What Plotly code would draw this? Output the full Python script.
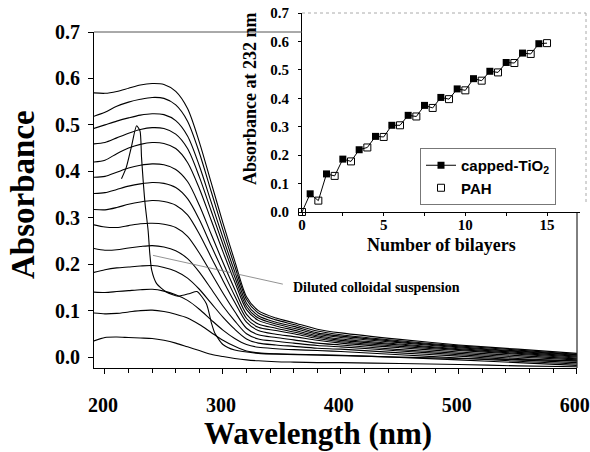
import plotly.graph_objects as go

# ---------------- UV-vis spectra (main panel) ----------------
wavelength = [190, 200, 210, 220, 230, 240, 250, 260, 270, 280, 290, 300,
              310, 320, 330, 345, 360, 380, 400, 450, 500, 550, 600]

# one spectrum per deposition step, thinnest film first
spectrum_01 = [.034, .042, .043, .042, .041, .040, .036, .030, .022, .014, .006, .001,
               -.003, -.006, -.008, -.010, -.011, -.012, -.012, -.014, -.016, -.019, -.021]
spectrum_02 = [.095, .093, .094, .097, .100, .101, .098, .092, .084, .070, .053, .036,
               .023, .013, .009, .007, .006, .005, .004, -.001, -.006, -.012, -.018]
spectrum_03 = [.140, .139, .141, .143, .145, .146, .142, .134, .122, .103, .080, .058,
               .040, .027, .021, .018, .016, .014, .012, .005, -.002, -.009, -.015]
spectrum_04 = [.182, .188, .192, .194, .196, .197, .193, .185, .170, .146, .116, .086,
               .060, .039, .030, .026, .023, .019, .017, .009, .002, -.006, -.012]
spectrum_05 = [.234, .230, .231, .235, .238, .240, .237, .229, .212, .183, .147, .110,
               .078, .050, .039, .034, .030, .025, .022, .013, .005, -.003, -.009]
spectrum_06 = [.285, .280, .279, .283, .287, .288, .286, .279, .260, .224, .181, .138,
               .098, .062, .048, .042, .037, .030, .026, .016, .008, .000, -.006]
spectrum_07 = [.318, .317, .322, .329, .334, .337, .335, .327, .306, .265, .215, .165,
               .118, .075, .057, .049, .044, .036, .030, .020, .011, .003, -.004]
spectrum_08 = [.352, .354, .361, .368, .373, .376, .374, .365, .341, .296, .240, .185,
               .132, .083, .064, .057, .050, .040, .033, .023, .014, .006, -.002]
spectrum_09 = [.387, .389, .398, .407, .413, .416, .414, .404, .378, .327, .265, .204,
               .146, .092, .071, .062, .054, .043, .036, .026, .016, .008, .000]
spectrum_10 = [.420, .424, .438, .450, .458, .462, .460, .449, .419, .363, .295, .227,
               .162, .102, .079, .067, .058, .046, .039, .028, .018, .010, .002]
spectrum_11 = [.459, .462, .472, .482, .490, .494, .492, .480, .449, .388, .315, .243,
               .173, .109, .084, .071, .062, .049, .042, .031, .020, .012, .004]
spectrum_12 = [.492, .500, .508, .515, .521, .524, .522, .509, .476, .412, .334, .257,
               .184, .116, .089, .075, .066, .052, .045, .033, .022, .013, .005]
spectrum_13 = [.518, .527, .540, .549, .555, .559, .557, .543, .508, .440, .357, .274,
               .196, .124, .095, .080, .070, .056, .048, .035, .024, .015, .006]
spectrum_14 = [.569, .568, .572, .579, .586, .589, .587, .572, .535, .463, .376, .289,
               .207, .130, .100, .084, .074, .060, .052, .038, .026, .017, .008]

spectra = [spectrum_01, spectrum_02, spectrum_03, spectrum_04, spectrum_05,
           spectrum_06, spectrum_07, spectrum_08, spectrum_09, spectrum_10,
           spectrum_11, spectrum_12, spectrum_13, spectrum_14]

# diluted colloidal suspension
dilute_wavelength = [214, 218, 222.6, 226.8, 229.7, 231, 234, 236.6, 238, 239.6, 243.8,
                     252, 262, 272, 278, 286, 290.4, 293.2, 300, 310, 330, 400, 500, 600]
dilute_absorbance = [.384, .408, .455, .498, .487, .430, .330, .272, .223, .187, .158,
                     .140, .131, .137, .141, .115, .072, .051, .027, .015, .008, .003,
                     -.003, -.008]

# ---------------- inset: absorbance at 232 nm vs bilayers ----------------
bilayers_tio2 = [0.5, 1.5, 2.5, 3.5, 4.5, 5.5, 6.5, 7.5, 8.5, 9.5, 10.5, 11.5, 12.5, 13.5, 14.5]
abs232_tio2 = [.064, .134, .186, .219, .266, .305, .340, .375, .403, .433, .469, .495,
               .526, .559, .592]
bilayers_pah = [0, 1, 2, 3, 4, 5, 6, 7, 8, 9, 10, 11, 12, 13, 14, 15]
abs232_pah = [.000, .040, .127, .178, .227, .264, .305, .336, .366, .397, .428, .462,
              .491, .524, .556, .594]

# pointer for the suspension label
pointer_from = (240.7, 0.219)
pointer_to = (350.8, 0.157)
label_at = (357.6, 0.150)

W, H = 590, 452


def px(x):
    return x / W


def py(y):
    return 1 - y / H


SERIF = "Liberation Serif"
SANS = "Liberation Sans"

fig = go.Figure()

for s in spectra:
    fig.add_trace(go.Scatter(x=wavelength, y=s, mode="lines",
                             line=dict(color="black", width=1.1, shape="spline", smoothing=0.8),
                             showlegend=False, hoverinfo="skip", xaxis="x", yaxis="y"))

fig.add_trace(go.Scatter(x=dilute_wavelength, y=dilute_absorbance, mode="lines",
                         line=dict(color="black", width=1.1, shape="spline", smoothing=0.6),
                         showlegend=False, hoverinfo="skip", xaxis="x", yaxis="y"))

# inset: zig-zag line through all deposition steps
steps = sorted(zip(bilayers_tio2 + bilayers_pah, abs232_tio2 + abs232_pah))
fig.add_trace(go.Scatter(x=[p[0] for p in steps], y=[p[1] for p in steps], mode="lines",
                         line=dict(color="black", width=1),
                         showlegend=False, hoverinfo="skip", xaxis="x2", yaxis="y2"))
fig.add_trace(go.Scatter(x=bilayers_tio2, y=abs232_tio2, mode="markers",
                         marker=dict(symbol="square", size=7, color="black"),
                         showlegend=False, cliponaxis=False, xaxis="x2", yaxis="y2"))
# legend key for the capped-TiO2 steps (line + filled square)
fig.add_trace(go.Scatter(x=[None], y=[None], mode="lines+markers", name="capped-TiO<sub>2</sub>",
                         line=dict(color="black", width=1),
                         marker=dict(symbol="square", size=7, color="black"),
                         xaxis="x2", yaxis="y2"))
fig.add_trace(go.Scatter(x=bilayers_pah, y=abs232_pah, mode="markers", name="PAH",
                         marker=dict(symbol="square-open", size=7, color="black",
                                     line=dict(width=1, color="black")),
                         cliponaxis=False, xaxis="x2", yaxis="y2"))

tick_font = dict(family=SERIF, size=20, color="black", weight="bold")
inset_font = dict(family=SERIF, size=15, color="black", weight="bold")

fig.update_layout(
    width=W, height=H,
    margin=dict(l=0, r=0, t=0, b=0),
    paper_bgcolor="white", plot_bgcolor="white",
    xaxis=dict(domain=[px(94), px(577)], range=[190.7, 600.2], anchor="y",
               tickmode="array", tickvals=[200, 300, 400, 500, 600],
               ticks="outside", ticklen=5, tickcolor="black",
               minor=dict(tickmode="linear", tick0=200, dtick=20, ticks="outside",
                          ticklen=4, tickcolor="black", showgrid=False),
               showline=True, linecolor="black", linewidth=1,
               showgrid=False, zeroline=False, tickfont=tick_font,
               ticklabelstandoff=14, ticklabelshift=-2,
               ticklabeloverflow="allow", automargin=False),
    yaxis=dict(domain=[py(368), py(32)], range=[-0.0236, 0.7], anchor="x",
               tick0=0, dtick=0.1, tickformat=".1f",
               ticks="outside", ticklen=5, tickcolor="black",
               showline=True, linecolor="black", linewidth=1,
               showgrid=False, zeroline=False, tickfont=tick_font,
               ticklabelstandoff=4, automargin=False),
    xaxis2=dict(domain=[px(302), px(579.7)], range=[0, 17], anchor="y2",
                tick0=0, dtick=5, ticks="outside", ticklen=3, tickcolor="black",
                minor=dict(dtick=2.5, ticks="outside", ticklen=3, tickcolor="black",
                           showgrid=False),
                showline=True, linecolor="black", linewidth=1,
                showgrid=False, zeroline=False, tickfont=inset_font,
                ticklabelstandoff=-4, automargin=False),
    yaxis2=dict(domain=[py(212), py(13)], range=[0, 0.7], anchor="x2",
                tick0=0, dtick=0.1, tickformat=".1f",
                ticks="outside", ticklen=3, tickcolor="black",
                showline=True, linecolor="black", linewidth=1,
                showgrid=False, zeroline=False, tickfont=inset_font,
                ticklabelstandoff=6, automargin=False),
    legend=dict(x=px(420), y=py(148), xanchor="left", yanchor="top",
                bgcolor="white", bordercolor="#777", borderwidth=1,
                font=dict(family=SANS, size=15, color="black", weight="bold"),
                tracegroupgap=0, itemwidth=30),
    showlegend=True,
)

shapes = [
    # main frame: top edge up to the inset, right edge below the inset
    dict(type="line", xref="paper", yref="paper", x0=px(94), x1=px(302), y0=py(32), y1=py(32),
         line=dict(color="#555", width=1)),
    dict(type="line", xref="paper", yref="paper", x0=px(577), x1=px(577), y0=py(368), y1=py(213),
         line=dict(color="black", width=1)),
    # faint inset frame
    dict(type="line", xref="paper", yref="paper", x0=px(302), x1=px(586), y0=py(13), y1=py(13),
         line=dict(color="#aaa", width=1, dash="dot")),
    dict(type="line", xref="paper", yref="paper", x0=px(586), x1=px(586), y0=py(13), y1=py(205),
         line=dict(color="#aaa", width=1, dash="dot")),
    # pointer to the suspension spectrum
    dict(type="line", xref="x", yref="y", x0=pointer_from[0], y0=pointer_from[1],
         x1=pointer_to[0], y1=pointer_to[1], line=dict(color="#777", width=0.8)),
]
fig.update_layout(shapes=shapes)

annotations = [
    dict(text="<b>Wavelength (nm)</b>", xref="paper", yref="paper", x=px(318), y=py(433),
         xanchor="center", yanchor="middle", showarrow=False,
         font=dict(family=SERIF, size=31, color="black")),
    dict(text="<b>Absorbance</b>", xref="paper", yref="paper", x=px(23), y=py(195),
         xanchor="center", yanchor="middle", textangle=-90, showarrow=False,
         font=dict(family=SERIF, size=33, color="black")),
    dict(text="<b>Absorbance at 232 nm</b>", xref="paper", yref="paper", x=px(250), y=py(99),
         xanchor="center", yanchor="middle", textangle=-90, showarrow=False,
         font=dict(family=SERIF, size=18, color="black")),
    dict(text="<b>Number of bilayers</b>", xref="paper", yref="paper", x=px(441), y=py(245),
         xanchor="center", yanchor="middle", showarrow=False,
         font=dict(family=SERIF, size=18, color="black")),
    dict(text="<b>Diluted colloidal suspension</b>", xref="x", yref="y",
         x=label_at[0], y=label_at[1], xanchor="left", yanchor="middle", showarrow=False,
         font=dict(family=SERIF, size=14, color="black")),
]
fig.update_layout(annotations=annotations)

fig.write_html("out.html")
